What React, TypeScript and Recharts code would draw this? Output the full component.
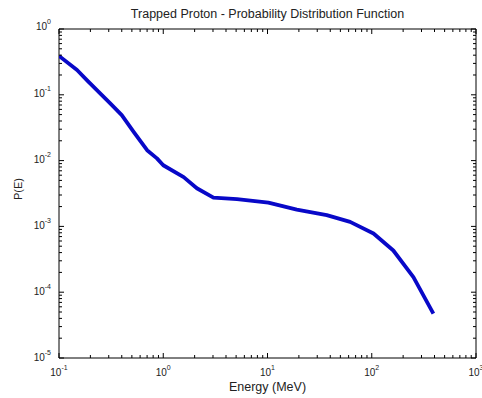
import { Line, LineChart, ReferenceArea, XAxis, YAxis } from "recharts";

// energy (MeV) and probability
const ENERGY = [
  0.1, 0.149, 0.185, 0.24, 0.31, 0.4, 0.52, 0.7, 0.87, 1.0, 1.57, 2.1, 3.03,
  5.1, 10.2, 19.1, 37, 62, 104, 161, 251, 390,
];
const PROB = [
  0.39, 0.238, 0.167, 0.111, 0.074, 0.049, 0.0274, 0.0144, 0.0108, 0.0085,
  0.0056, 0.0038, 0.00274, 0.0026, 0.0023, 0.0018, 0.00148, 0.00117, 0.00078,
  0.00043, 0.00017, 0.0000473,
];

const X_DECADES = [0.1, 1, 10, 100, 1000];
const Y_DECADES = [0.00001, 0.0001, 0.001, 0.01, 0.1, 1];
const MINOR_STEPS = [2, 3, 4, 5, 6, 7, 8, 9];

const TITLE = "Trapped Proton - Probability Distribution Function";
const X_LABEL = "Energy (MeV)";
const Y_LABEL = "P(E)";

const W = 482;
const H = 398;
const PLOT_LEFT = 59;
const PLOT_TOP = 29;
const PLOT_RIGHT = 476;
const PLOT_BOTTOM = 358;
const FONT = "'Liberation Sans', Arial, sans-serif";
const TEXT_COLOR = "#222";

const withMinors = (decades: number[]) => {
  const out: number[] = [];
  decades.forEach((d, i) => {
    out.push(d);
    if (i < decades.length - 1) MINOR_STEPS.forEach((m) => out.push(+(d * m).toPrecision(6)));
  });
  return out;
};

const X_TICKS = withMinors(X_DECADES);
const Y_TICKS = withMinors(Y_DECADES);

const data = ENERGY.map((e, i) => ({ energy: e, p: PROB[i] }));

const isDecade = (v: number, decades: number[]) =>
  decades.some((d) => Math.abs(d - v) / d < 1e-6);
const expOf = (v: number) => Math.round(Math.log10(v));

// bottom tick also draws its twin on the top edge of the box
const XTick = ({ x, payload }: any) => {
  const v = payload.value;
  const major = isDecade(v, X_DECADES);
  const len = major ? 5 : 3;
  return (
    <g>
      <line x1={x} x2={x} y1={PLOT_BOTTOM} y2={PLOT_BOTTOM - len} stroke="#000" />
      <line x1={x} x2={x} y1={PLOT_TOP} y2={PLOT_TOP + len} stroke="#000" />
      {major && (
        <text x={x} y={376} textAnchor="middle" fontSize={10} fontFamily={FONT} fill={TEXT_COLOR}>
          10
          <tspan dy={-6} fontSize={7}>
            {expOf(v)}
          </tspan>
        </text>
      )}
    </g>
  );
};

// left tick also draws its twin on the right edge
const YTick = ({ y, payload }: any) => {
  const v = payload.value;
  const major = isDecade(v, Y_DECADES);
  const len = major ? 5 : 3;
  const base = v === 1 ? y + 0.5 : y + 2.5;
  return (
    <g>
      <line x1={PLOT_LEFT} x2={PLOT_LEFT + len} y1={y} y2={y} stroke="#000" />
      <line x1={PLOT_RIGHT} x2={PLOT_RIGHT - len} y1={y} y2={y} stroke="#000" />
      {major && (
        <text x={51} y={base} textAnchor="end" fontSize={10} fontFamily={FONT} fill={TEXT_COLOR}>
          10
          <tspan dy={-6} fontSize={7}>
            {expOf(v)}
          </tspan>
        </text>
      )}
    </g>
  );
};

export default function App() {
  return (
    <div style={{ position: "absolute", left: 0, top: 0, width: W, height: H, background: "#fff" }}>
      <div
        style={{
          position: "absolute",
          left: PLOT_LEFT - 20,
          width: PLOT_RIGHT - PLOT_LEFT + 40,
          top: 7,
          textAlign: "center",
          fontFamily: FONT,
          fontSize: 12.5,
          lineHeight: "15px",
          color: TEXT_COLOR,
        }}
      >
        {TITLE}
      </div>
      <LineChart
        width={W}
        height={H}
        data={data}
        margin={{ top: PLOT_TOP, right: W - PLOT_RIGHT, bottom: 0, left: 0 }}
      >
        <XAxis
          dataKey="energy"
          type="number"
          scale="log"
          domain={[0.1, 1000]}
          ticks={X_TICKS}
          interval={0}
          allowDataOverflow
          height={H - PLOT_BOTTOM}
          tickSize={0}
          tickMargin={0}
          tickLine={false}
          axisLine={false}
          tick={XTick}
          label={{
            content: () => (
              <text
                x={(PLOT_LEFT + PLOT_RIGHT) / 2}
                y={391}
                textAnchor="middle"
                fontSize={12.5}
                fontFamily={FONT}
                fill={TEXT_COLOR}
              >
                {X_LABEL}
              </text>
            ),
          }}
        />
        <YAxis
          type="number"
          scale="log"
          domain={[0.00001, 1]}
          ticks={Y_TICKS}
          interval={0}
          allowDataOverflow
          width={PLOT_LEFT}
          tickSize={0}
          tickMargin={0}
          tickLine={false}
          axisLine={false}
          tick={YTick}
          label={{
            content: () => (
              <text
                x={18}
                y={189}
                transform="rotate(-90 18 189)"
                textAnchor="middle"
                dominantBaseline="central"
                fontSize={11}
                fontFamily={FONT}
                fill={TEXT_COLOR}
              >
                {Y_LABEL}
              </text>
            ),
          }}
        />
        <ReferenceArea
          x1={0.1}
          x2={1000}
          y1={0.00001}
          y2={1}
          fill="none"
          stroke="#000"
          strokeWidth={1}
          ifOverflow="visible"
        />
        <Line
          type="linear"
          dataKey="p"
          stroke="#0808c8"
          strokeWidth={3.8}
          strokeLinejoin="round"
          dot={false}
          isAnimationActive={false}
        />
      </LineChart>
    </div>
  );
}
